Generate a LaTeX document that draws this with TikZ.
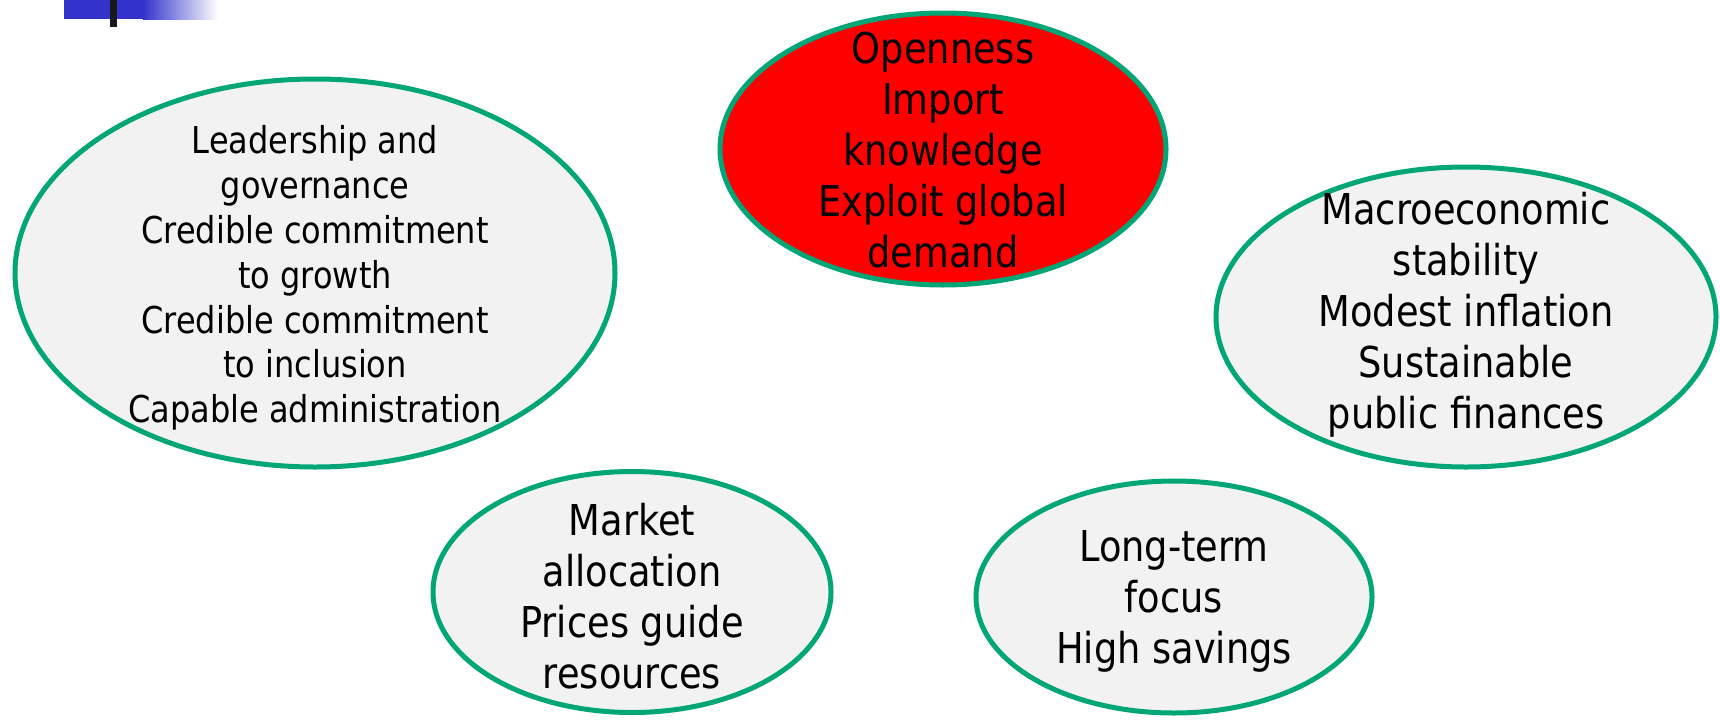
\documentclass[tikz,border=0pt]{standalone}
\usepackage{fontspec}
\setmainfont{DejaVu Sans}[FakeStretch=0.865]
\usetikzlibrary{shapes.geometric}
\definecolor{ringgreen}{RGB}{0,166,118}
\definecolor{softgrey}{RGB}{242,242,242}
\definecolor{barblue}{RGB}{51,51,204}
\tikzset{
  bubble/.style={ellipse, draw=ringgreen, line width=5pt, fill=softgrey,
    inner sep=0pt, outer sep=0pt},
  hotbubble/.style={bubble, fill=red},
  caption/.style={align=center, text=black, inner sep=0pt},
  txtbig/.style={caption, font=\fontsize{42.5}{51}\selectfont},
  txtsmall/.style={caption, font=\fontsize{37}{44.8}\selectfont},
}
\begin{document}
\begin{tikzpicture}[x=1pt,y=-1pt]
  \useasboundingbox (0,0) rectangle (1720,720);
  \fill[white] (0,0) rectangle (1720,720);

  % title bar ornament, top left
  \fill[barblue] (64,0) rectangle (143,19);
  \shade[left color=barblue, right color=white] (143,0) rectangle (218,19);
  \fill[black!90] (110,0) rectangle (117,27);

  % outlines
  \node[bubble, minimum width=600pt, minimum height=388pt] (lead) at (315,273) {};
  \node[hotbubble, minimum width=446pt, minimum height=272pt] (open) at (943,149) {};
  \node[bubble, minimum width=500pt, minimum height=300pt] (macro) at (1466,317) {};
  \node[bubble, minimum width=398pt, minimum height=241pt] (market) at (632,592) {};
  \node[bubble, minimum width=396pt, minimum height=232pt] (longterm) at (1174,597) {};

  % captions
  \node[txtsmall] (lead-txt) at ([yshift=-5pt]lead.center)
    {Leadership and\\governance\\Credible commitment\\to growth\\Credible commitment\\to inclusion\\Capable administration};
  \node[txtbig] (open-txt) at ([yshift=-1pt]open.center)
    {Openness\\Import\\knowledge\\Exploit global\\demand};
  \node[txtbig] (macro-txt) at ([yshift=2pt]macro.center)
    {Macroeconomic\\stability\\Modest inflation\\Sustainable\\public finances};
  \node[txtbig] (market-txt) at ([yshift=-4pt]market.center)
    {Market\\allocation\\Prices guide\\resources};
  \node[txtbig] (longterm-txt) at ([yshift=-4pt]longterm.center)
    {Long-term\\focus\\High savings};
\end{tikzpicture}
\end{document}
